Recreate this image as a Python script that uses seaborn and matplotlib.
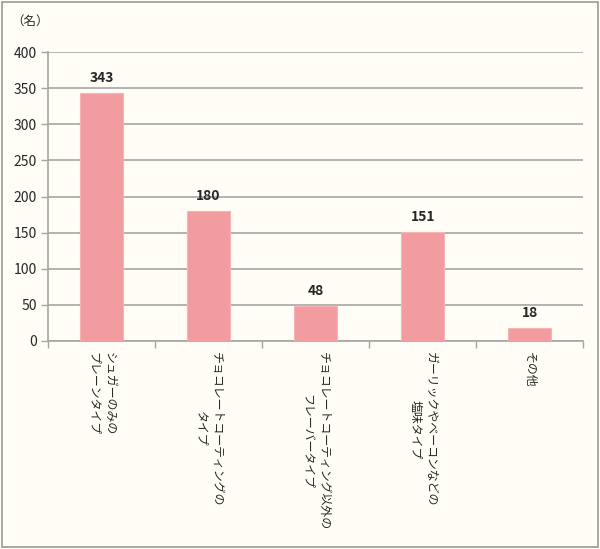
import matplotlib
matplotlib.use("Agg")
import matplotlib.pyplot as plt
import seaborn as sns
import pandas as pd
from matplotlib.patches import Rectangle
from matplotlib.ticker import FixedLocator

categories = [
    "シュガーのみの\nプレーンタイプ",
    "チョコレートコーティングの\nタイプ",
    "チョコレートコーティング以外の\nフレーバータイプ",
    "ガーリックやベーコンなどの\n塩味タイプ",
    "その他",
]
values = [343, 180, 48, 151, 18]
yticks = [0, 50, 100, 150, 200, 250, 300, 350, 400]
unit_label = "（名）"

sns.set_theme(style="white")
plt.rcParams["font.family"] = ["Noto Sans CJK JP", "DejaVu Sans"]

bg = "#FFFDF6"
bar_color = "#F29CA0"
grid_color = "#A6A6A6"

fig = plt.figure(figsize=(6.0, 5.49), dpi=100, facecolor=bg)
ax = fig.add_axes([0.08, 0.379, 0.892, 0.526])
ax.set_facecolor(bg)

df = pd.DataFrame({"cat": categories, "val": values})
sns.barplot(data=df, x="cat", y="val", color=bar_color, width=0.4,
            saturation=1, ax=ax, edgecolor="#F6B4B6", linewidth=0.8, zorder=3)

ax.set_ylim(0, 400)
ax.set_xlim(-0.5, len(categories) - 0.5)
ax.set_yticks(yticks)
ax.set_yticklabels([str(v) for v in yticks], fontsize=10)
ax.yaxis.grid(True, color=grid_color, linewidth=1.2, zorder=0)
ax.set_axisbelow(True)
ax.tick_params(axis="y", length=5, width=1, color=grid_color, pad=3, left=True)

ax.set_xticks(range(len(categories)))
ax.set_xticklabels(categories, rotation=-90, ha="center", va="top",
                   multialignment="center", fontsize=8.6, linespacing=1.25)
ax.tick_params(axis="x", which="major", length=0, pad=8)
ax.xaxis.set_minor_locator(FixedLocator([i - 0.5 for i in range(len(categories) + 1)]))
ax.tick_params(axis="x", which="minor", length=5, width=1, color=grid_color, bottom=True)

ax.set_xlabel("")
ax.set_ylabel("")
for s in ["top", "right"]:
    ax.spines[s].set_visible(False)
for s in ["left", "bottom"]:
    ax.spines[s].set_color(grid_color)
    ax.spines[s].set_linewidth(1.2)

for i, v in enumerate(values):
    ax.annotate(str(v), xy=(i, v), xytext=(0, 6), textcoords="offset points",
                ha="center", va="bottom", fontsize=10, fontweight="bold")

fig.text(0.018, 0.962, unit_label, fontsize=9, ha="left", va="center")

fig.patches.append(Rectangle((0.003, 0.003), 0.994, 0.994, transform=fig.transFigure,
                             fill=False, edgecolor="#9A9A9A", linewidth=1.2))

fig.savefig("out.png", dpi=100, facecolor=bg)
